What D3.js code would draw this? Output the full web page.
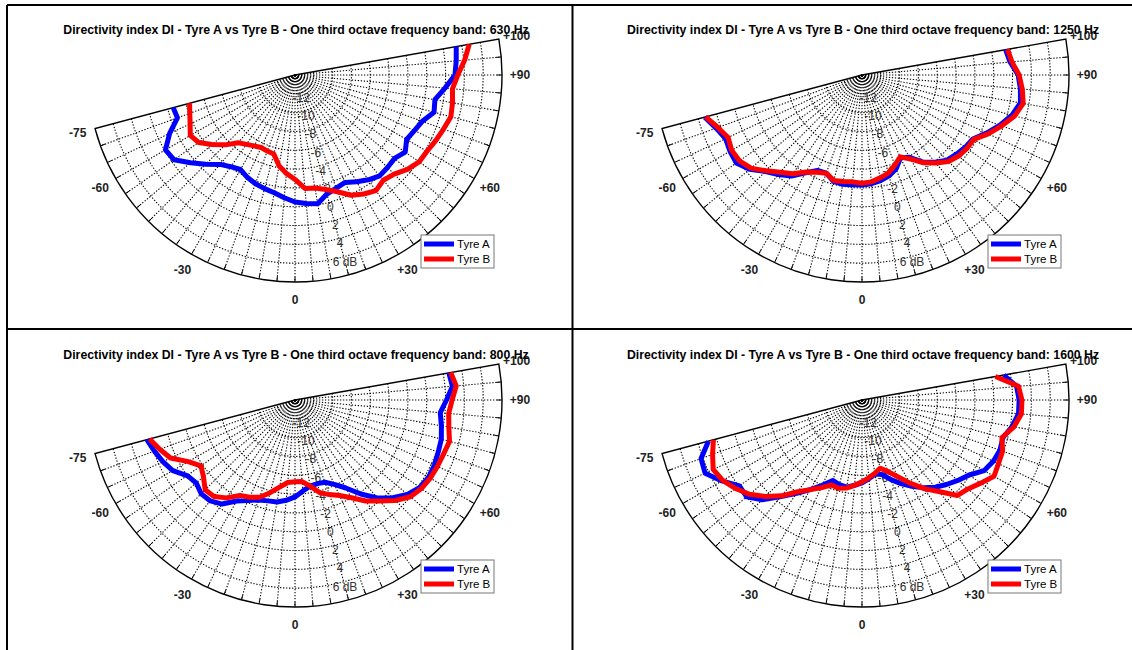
<!DOCTYPE html>
<html><head><meta charset="utf-8">
<script src="https://cdn.jsdelivr.net/npm/d3@7"></script>
<style>
html,body{margin:0;padding:0;background:#fff;}
svg{display:block;font-family:"Liberation Sans",Arial,sans-serif;}
</style></head><body>
<svg id="chart" width="1132" height="650"></svg>
<script>
// ---------- data ----------
const angles = [-75,-70,-65,-60,-55,-50,-45,-40,-35,-30,-25,-20,-15,-10,-5,0,5,10,15,20,25,30,35,40,45,50,55,60,65,70,75,80,85,90,95,100];
const radialTicks = [-12,-10,-8,-6,-4,-2,0,2,4,6];
const angleTickLabels = ["-75","-60","-30","0","+30","+60","+90","+100"];
const angleTickValues = [-75,-60,-30,0,30,60,90,100];
const seriesNames = ["Tyre A","Tyre B"];
const seriesColors = ["#0000ff","#ff0000"];

const tyreA_630  = [-0.6,-0.7,0.7,1.9,1.7,0.5,-0.6,-1.6,-2.1,-2.4,-2.0,-1.7,-1.5,-1.3,-0.9,-0.5,-0.3,-0.1,-0.9,-1.2,-1.4,-0.9,-0.4,0.0,-0.1,-0.2,0.3,-0.3,0.0,0.4,1.3,1.1,2.0,3.0,3.2,3.4];
const tyreB_630  = [-2.4,-2.1,-1.7,-1.15,-1.5,-2.5,-3.5,-4.6,-5.0,-5.3,-5.5,-5.4,-5.3,-4.2,-3.5,-2.9,-1.9,-1.8,-1.4,-0.8,0.1,0.6,1.0,0.6,0.9,1.6,2.1,2.2,2.5,2.8,3.15,3.0,2.8,3.3,4.1,4.8];
const tyreA_1250 = [3.3,2.5,2.0,2.2,2.3,1.6,0.5,-0.2,-0.9,-2.0,-2.8,-2.9,-2.3,-2.2,-2.3,-2.3,-2.4,-2.6,-2.9,-3.4,-4.3,-3.9,-2.7,-1.9,-1.2,-0.9,-0.6,-0.4,0.6,1.6,2.5,3.1,2.9,2.6,1.8,1.5];
const tyreB_1250 = [3.2,2.3,1.7,2.0,1.9,1.4,0.4,-0.5,-1.2,-2.1,-2.6,-2.9,-2.4,-2.5,-2.6,-2.5,-2.6,-2.9,-3.2,-3.8,-4.4,-3.7,-2.6,-1.8,-1.0,-0.6,-0.4,-0.3,0.8,1.8,2.8,3.4,3.1,2.7,2.0,1.7];
const tyreA_800  = [2.3,1.9,1.5,1.0,0.0,-0.3,0.1,0.0,-0.5,-1.6,-2.2,-2.7,-2.9,-3.0,-3.3,-3.7,-4.3,-4.7,-4.8,-4.7,-4.1,-3.2,-1.8,-0.4,0.7,1.6,2.2,2.4,2.35,2.2,2.1,1.8,1.5,2.1,2.8,2.6];
const tyreB_800  = [2.0,1.3,0.6,-0.9,-1.8,-1.3,-0.5,-0.6,-1.3,-2.3,-2.6,-3.0,-3.8,-4.6,-5.2,-5.3,-5.3,-4.7,-3.8,-3.3,-2.8,-2.0,-0.9,0.0,1.1,2.0,2.4,2.6,2.7,2.8,3.0,2.6,2.4,2.7,3.2,2.8];
const tyreA_1600 = [2.9,4.2,4.4,3.2,1.9,2.0,1.0,-0.6,-1.9,-3.0,-4.0,-4.9,-4.7,-4.6,-4.9,-5.2,-5.6,-6.0,-5.8,-5.0,-4.2,-3.4,-2.6,-1.9,-1.3,-0.7,-0.1,1.0,1.4,1.6,1.5,2.2,2.7,2.7,2.5,1.3];
const tyreB_1600 = [2.35,2.9,3.45,3.1,2.4,1.6,0.5,-0.7,-2.1,-3.0,-3.7,-4.4,-4.3,-4.5,-4.9,-5.3,-5.7,-6.1,-6.5,-5.9,-5.0,-3.8,-2.5,-1.3,0.35,0.7,1.4,2.2,2.0,1.9,1.4,2.4,3.0,3.0,2.7,0.4];

// ---------- layout ----------
const R = 207;
const panels = [
  {band:"630",  a:tyreA_630,  b:tyreB_630,  cx:295, cy:75},
  {band:"1250", a:tyreA_1250, b:tyreB_1250, cx:862, cy:75},
  {band:"800",  a:tyreA_800,  b:tyreB_800,  cx:295, cy:400},
  {band:"1600", a:tyreA_1600, b:tyreB_1600, cx:862, cy:400}
];

const svg = d3.select("#chart");
const rScale = d3.scaleLinear().domain([-14, 8]).range([0, R]);
// d3 radial angle: 0 = up, clockwise. Our 0 deg = down, + toward right.
const aScale = d3.scaleLinear().domain([0, 180]).range([Math.PI, 0]);
const rad = d => d * Math.PI / 180;
const pt = (theta, r) => [r * Math.sin(rad(theta)), r * Math.cos(rad(theta))];
const DOTS = "1.3,1.7";

// borders
const borders = svg.append("g").attr("stroke", "#000").attr("stroke-width", 2);
borders.append("line").attr("x1", 7).attr("x2", 7).attr("y1", 5).attr("y2", 650);
borders.append("line").attr("x1", 572.5).attr("x2", 572.5).attr("y1", 5).attr("y2", 650);
borders.append("line").attr("x1", 7).attr("x2", 1132).attr("y1", 5).attr("y2", 5);
borders.append("line").attr("x1", 7).attr("x2", 1132).attr("y1", 329).attr("y2", 329);

panels.forEach(p => {
  const g = svg.append("g").attr("transform", `translate(${p.cx},${p.cy})`);

  // grid circles
  radialTicks.forEach(v => {
    const r = rScale(v);
    const path = d3.path();
    const s = pt(100, r);
    path.moveTo(s[0], s[1]);
    path.arc(0, 0, r, rad(90 - 100), rad(90 + 75), false);
    g.append("path").attr("d", path.toString())
      .attr("fill", "none").attr("stroke", "#000").attr("stroke-width", 1.1)
      .attr("stroke-dasharray", DOTS);
  });

  // radial grid lines
  const spokes = d3.range(-70, 100, 5);
  spokes.forEach(t => {
    const e = pt(t, R);
    g.append("line").attr("x1", 0).attr("y1", 0).attr("x2", e[0]).attr("y2", e[1])
      .attr("stroke", "#000").attr("stroke-width", 1.1).attr("stroke-dasharray", DOTS);
    const s = pt(t, R - 5);
    g.append("line").attr("x1", s[0]).attr("y1", s[1]).attr("x2", e[0]).attr("y2", e[1])
      .attr("stroke", "#000").attr("stroke-width", 1);
  });

  // frame (sector)
  const frame = d3.arc().innerRadius(0).outerRadius(R)
    .startAngle(aScale(100)).endAngle(aScale(-75));
  g.append("path").attr("d", frame()).attr("fill", "none")
    .attr("stroke", "#000").attr("stroke-width", 1.4);

  // radial labels
  radialTicks.forEach((v, i) => {
    const q = pt(15, rScale(v) + 5);
    g.append("text").attr("x", q[0]).attr("y", q[1])
      .attr("text-anchor", "middle").attr("dominant-baseline", "central")
      .attr("font-size", 12).attr("fill", "#333")
      .text(i === radialTicks.length - 1 ? v + " dB" : v);
  });

  // angle labels
  angleTickValues.forEach((t, i) => {
    const q = pt(t, R + 18);
    g.append("text").attr("x", q[0]).attr("y", q[1])
      .attr("text-anchor", "middle").attr("dominant-baseline", "central")
      .attr("font-size", 12).attr("font-weight", "bold").attr("fill", "#222")
      .text(angleTickLabels[i]);
  });

  // curves
  const line = d3.lineRadial()
    .angle(d => aScale(d[0]))
    .radius(d => rScale(d[1]));
  [p.a, p.b].forEach((vals, k) => {
    g.append("path").attr("d", line(angles.map((t, i) => [t, vals[i]])))
      .attr("fill", "none").attr("stroke", seriesColors[k]).attr("stroke-width", 5)
      .attr("stroke-linejoin", "round");
  });

  // title
  g.append("text").attr("x", 1).attr("y", -41).attr("text-anchor", "middle")
    .attr("font-size", 12.3).attr("font-weight", "bold").attr("fill", "#000")
    .text(`Directivity index DI - Tyre A vs Tyre B - One third octave frequency band: ${p.band} Hz`);

  // legend
  const lg = g.append("g").attr("transform", "translate(126,160)");
  lg.append("rect").attr("x", 0).attr("y", 0).attr("width", 73).attr("height", 33)
    .attr("fill", "#fff").attr("stroke", "#777").attr("stroke-width", 1);
  seriesNames.forEach((n, k) => {
    const y = 9 + k * 15;
    lg.append("line").attr("x1", 3).attr("x2", 33).attr("y1", y).attr("y2", y)
      .attr("stroke", seriesColors[k]).attr("stroke-width", 5);
    lg.append("text").attr("x", 36).attr("y", y).attr("dominant-baseline", "central")
      .attr("font-size", 11.5).attr("fill", "#000").text(n);
  });
});
</script>
</body></html>
